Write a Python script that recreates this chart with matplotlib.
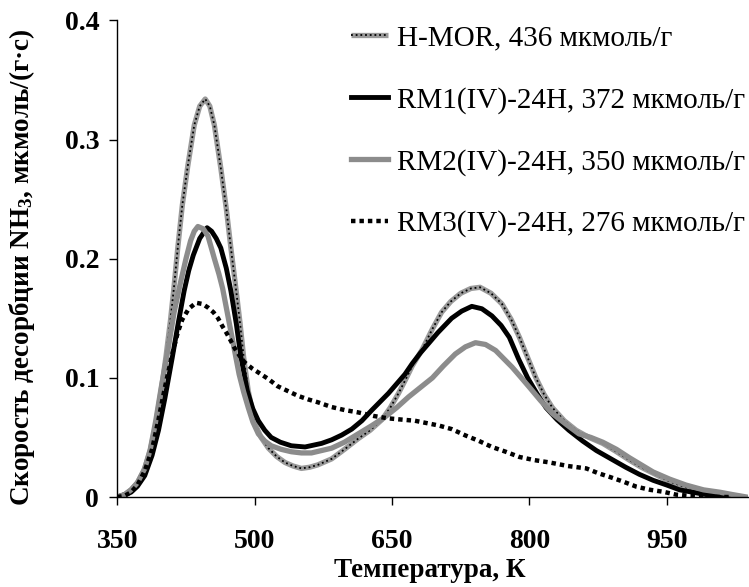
import matplotlib
matplotlib.use('Agg')
import matplotlib.pyplot as plt

plt.rcParams['font.family'] = ['Liberation Serif', 'DejaVu Serif']
plt.rcParams['mathtext.fontset'] = 'custom'
plt.rcParams['mathtext.rm'] = 'Liberation Serif:bold'
plt.rcParams['mathtext.default'] = 'rm'

# ТПД аммиака: температура, К и скорость десорбции, мкмоль/(г·с)
t_hmor = [350, 358, 365, 372, 379, 386, 392, 398, 403, 408, 412, 416, 421, 427, 434, 440,
          446, 451, 456, 463, 469, 474, 479, 484, 488, 493, 500, 507, 515, 524, 533, 542,
          551, 560, 569, 584, 598, 613, 626, 639, 648, 657, 665, 672, 683, 694, 704, 714,
          725, 736, 746, 758, 770, 780, 789, 798, 807, 816, 825, 838, 851, 865, 880, 895,
          909, 922, 935, 953, 971, 990, 1008, 1022, 1035]
v_hmor = [0.000, 0.002, 0.006, 0.012, 0.022, 0.039, 0.061, 0.090, 0.117, 0.148, 0.177,
          0.209, 0.245, 0.278, 0.312, 0.328, 0.334, 0.328, 0.312, 0.276, 0.242, 0.209,
          0.178, 0.146, 0.117, 0.089, 0.062, 0.050, 0.041, 0.034, 0.029, 0.026, 0.024,
          0.025, 0.027, 0.032, 0.040, 0.049, 0.056, 0.065, 0.075, 0.087, 0.099, 0.110,
          0.124, 0.141, 0.155, 0.164, 0.171, 0.175, 0.176, 0.171, 0.162, 0.149, 0.134,
          0.117, 0.100, 0.086, 0.075, 0.064, 0.056, 0.050, 0.045, 0.038, 0.031, 0.025,
          0.020, 0.013, 0.008, 0.005, 0.003, 0.001, 0.000]

t_rm1 = [350, 358, 365, 372, 380, 388, 395, 402, 410, 417, 423, 428, 433, 440, 448, 453,
         458, 463, 469, 474, 480, 485, 492, 498, 504, 511, 518, 528, 540, 555, 573, 584,
         595, 606, 617, 628, 637, 646, 655, 664, 672, 681, 690, 700, 715, 726, 737, 748,
         759, 769, 778, 788, 798, 808, 818, 830, 843, 858, 873, 889, 905, 920, 935, 950,
         964, 978, 993, 1010, 1025]
v_rm1 = [0.000, 0.002, 0.004, 0.009, 0.018, 0.035, 0.056, 0.083, 0.117, 0.148, 0.173,
         0.190, 0.203, 0.217, 0.226, 0.223, 0.217, 0.209, 0.192, 0.173, 0.145, 0.117,
         0.089, 0.074, 0.064, 0.056, 0.050, 0.046, 0.043, 0.042, 0.045, 0.048, 0.052,
         0.057, 0.064, 0.073, 0.080, 0.087, 0.095, 0.103, 0.112, 0.121, 0.129, 0.138,
         0.150, 0.156, 0.160, 0.158, 0.152, 0.144, 0.134, 0.116, 0.100, 0.087, 0.075,
         0.065, 0.056, 0.047, 0.039, 0.032, 0.025, 0.019, 0.014, 0.010, 0.006, 0.004,
         0.002, 0.001, 0.000]

t_rm2 = [350, 358, 365, 372, 380, 386, 392, 398, 405, 412, 419, 425, 430, 434, 438, 444,
         449, 456, 461, 465, 469, 476, 483, 488, 493, 498, 504, 511, 518, 529, 540, 551,
         562, 573, 584, 598, 613, 628, 642, 655, 668, 681, 694, 706, 719, 730, 741, 752,
         763, 772, 781, 790, 800, 812, 825, 840, 854, 867, 880, 895, 909, 922, 935, 953,
         971, 990, 1008, 1022, 1037]
v_rm2 = [0.000, 0.002, 0.006, 0.012, 0.024, 0.040, 0.064, 0.092, 0.122, 0.155, 0.180,
         0.200, 0.215, 0.223, 0.227, 0.225, 0.219, 0.200, 0.187, 0.175, 0.159, 0.131,
         0.103, 0.088, 0.075, 0.063, 0.053, 0.047, 0.043, 0.040, 0.038, 0.037, 0.037,
         0.039, 0.041, 0.046, 0.053, 0.060, 0.067, 0.075, 0.084, 0.092, 0.100, 0.110,
         0.120, 0.126, 0.1295, 0.128, 0.123, 0.116, 0.109, 0.101, 0.092, 0.081, 0.070,
         0.061, 0.053, 0.050, 0.046, 0.040, 0.033, 0.027, 0.021, 0.015, 0.010, 0.006,
         0.004, 0.002, 0.000]

t_rm3 = [350, 358, 365, 372, 380, 388, 395, 402, 410, 416, 421, 428, 436, 443, 449, 455,
         460, 465, 469, 474, 478, 484, 489, 497, 504, 515, 525, 536, 547, 558, 569, 584,
         598, 613, 630, 646, 660, 675, 688, 701, 715, 730, 745, 759, 774, 789, 805, 822,
         842, 862, 875, 887, 902, 917, 932, 946, 960, 975, 1000, 1020]
v_rm3 = [0.000, 0.001, 0.004, 0.010, 0.022, 0.040, 0.065, 0.092, 0.120, 0.138, 0.149,
         0.158, 0.163, 0.162, 0.159, 0.155, 0.150, 0.143, 0.138, 0.131, 0.125, 0.118,
         0.113, 0.108, 0.1045, 0.099, 0.093, 0.089, 0.085, 0.082, 0.0795, 0.0755, 0.073,
         0.071, 0.068, 0.066, 0.065, 0.064, 0.062, 0.060, 0.057, 0.0517, 0.047, 0.042,
         0.038, 0.0336, 0.031, 0.029, 0.026, 0.024, 0.020, 0.017, 0.013, 0.0086, 0.006,
         0.0044, 0.002, 0.001, 0.000, 0.000]

labels = ['H-MOR, 436 мкмоль/г',
          'RM1(IV)-24H, 372 мкмоль/г',
          'RM2(IV)-24H, 350 мкмоль/г',
          'RM3(IV)-24H, 276 мкмоль/г']
x_ticks = [350, 500, 650, 800, 950]
y_ticks = [0, 0.1, 0.2, 0.3, 0.4]

fig = plt.figure(figsize=(7.49, 5.87), dpi=100)
ax = fig.add_axes([0.1566, 0.1533, 0.8414, 0.812])

# H-MOR: серая линия с чёрными точками поверх
h_gray, = ax.plot(t_hmor, v_hmor, color='#9a9a9a', lw=3.8, solid_capstyle='butt')
h_dots, = ax.plot(t_hmor, v_hmor, color='black', lw=1.3, linestyle=(0, (1, 1.6)))
h_rm1, = ax.plot(t_rm1, v_rm1, color='black', lw=3.5)
h_rm2, = ax.plot(t_rm2, v_rm2, color='#8c8c8c', lw=3.8)
h_rm3, = ax.plot(t_rm3, v_rm3, color='black', lw=3.2, linestyle=(0, (1, 0.9)),
                 dash_capstyle='butt')

ax.set_xlim(350, 1038)
ax.set_ylim(0, 0.4)
ax.set_xticks(x_ticks)
ax.set_yticks(y_ticks)
ax.set_xticklabels([str(t) for t in x_ticks], fontsize=20, fontweight='bold')
ax.set_yticklabels(['0', '0.1', '0.2', '0.3', '0.4'], fontsize=20, fontweight='bold')
ax.tick_params(axis='x', direction='out', length=6, width=1, pad=17)
ax.tick_params(axis='y', direction='out', length=6, width=1, pad=7)
for side in ['top', 'right']:
    ax.spines[side].set_visible(False)
for side in ['left', 'bottom']:
    ax.spines[side].set_linewidth(1)

fig.text(0.574, 0.006, 'Температура, К', ha='center', va='bottom',
         fontsize=19.5, fontweight='bold')
fig.text(0.010, 0.545, 'Скорость десорбции NH$_3$, мкмоль/(г·с)', ha='left',
         va='center', rotation=90, fontsize=19.5, fontweight='bold')

ax.legend([(h_gray, h_dots), h_rm1, h_rm2, h_rm3], labels,
          loc='upper left', bbox_to_anchor=(0.468, 0.957),
          bbox_transform=fig.transFigure, frameon=False, fontsize=21,
          handlelength=1.3, handletextpad=0.3, labelspacing=1.2,
          borderpad=0, borderaxespad=0)

fig.savefig('out.png', dpi=100)
